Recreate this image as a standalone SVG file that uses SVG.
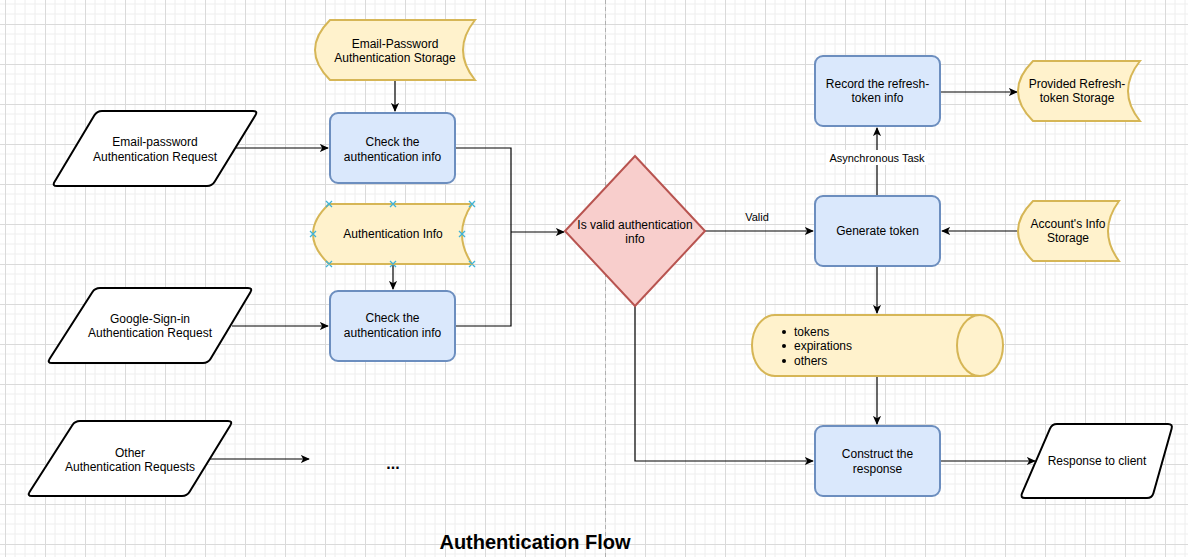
<svg xmlns="http://www.w3.org/2000/svg" width="1188" height="557" viewBox="0 0 1188 557">
<defs>
<pattern id="grid" x="5" y="24" width="40" height="40" patternUnits="userSpaceOnUse">
<path d="M10,0V40M20,0V40M30,0V40M0,10H40M0,20H40M0,30H40" stroke="#eeeeee" stroke-width="1" fill="none"/>
<path d="M0.5,0V40M0,0.5H40" stroke="#dadada" stroke-width="1" fill="none"/>
</pattern>
<marker id="arr" viewBox="0 0 10 10" refX="9" refY="5" markerWidth="9" markerHeight="9" markerUnits="userSpaceOnUse" orient="auto">
<path d="M0,0.5 L10,5 L0,9.5 L2.5,5 Z" fill="#000"/>
</marker>
<style>
text{font-family:"Liberation Sans",Arial,sans-serif;font-size:12px;fill:#000;}
.c{text-anchor:middle;}
.blue{fill:#dae8fc;stroke:#6c8ebf;stroke-width:2;}
.yel{fill:#fff2cc;stroke:#d6b656;stroke-width:2;}
.io{fill:#fff;stroke:#000;stroke-width:2;stroke-linejoin:round;}
.dia{fill:#f8cecc;stroke:#b85450;stroke-width:2;}
.edge{fill:none;stroke:#000;stroke-width:1.2;}
.sel{stroke:#3fb3d8;stroke-width:1.3;}
</style>
</defs>
<rect width="1188" height="557" fill="#fff"/>
<rect width="1188" height="557" fill="url(#grid)"/>
<line x1="605.5" y1="0" x2="605.5" y2="557" stroke="#b0b0b0" stroke-width="1" stroke-dasharray="4,3"/>

<g id="connectors">
<path class="edge" d="M395,80V111" marker-end="url(#arr)"/>
<path class="edge" d="M393,264V289" marker-end="url(#arr)"/>
<path class="edge" d="M235,148H328" marker-end="url(#arr)"/>
<path class="edge" d="M232,326H328" marker-end="url(#arr)"/>
<path class="edge" d="M210,459H309" marker-end="url(#arr)"/>
<path class="edge" d="M455,148H511V326H455"/>
<path class="edge" d="M511,232H564" marker-end="url(#arr)"/>
<path class="edge" d="M705,231H813" marker-end="url(#arr)"/>
<text class="c" x="757" y="221" style="font-size:11px">Valid</text>
<path class="edge" d="M877,196V128" marker-end="url(#arr)"/>
<rect x="826" y="150" width="102" height="15" fill="#fff"/>
<text class="c" x="877" y="162" style="font-size:11px">Asynchronous Task</text>
<path class="edge" d="M940,92H1017" marker-end="url(#arr)"/>
<path class="edge" d="M1018,231H942" marker-end="url(#arr)"/>
<path class="edge" d="M877,266V313" marker-end="url(#arr)"/>
<path class="edge" d="M877,376V424" marker-end="url(#arr)"/>
<path class="edge" d="M635,306V461H813" marker-end="url(#arr)"/>
<path class="edge" d="M940,461H1035" marker-end="url(#arr)"/>
</g>

<g id="email-password-storage">
<path class="yel" d="M330,20 L475,20 Q451,50 475,80 L330,80 Q300,50 330,20 Z"/>
<text class="c" x="395" y="48">Email-Password</text>
<text class="c" x="395" y="62">Authentication Storage</text>
</g>

<g id="check-auth-1">
<rect class="blue" x="330" y="113" width="125" height="70" rx="8"/>
<text class="c" x="392.5" y="146">Check the</text>
<text class="c" x="392.5" y="161">authentication info</text>
</g>

<g id="authentication-info">
<path class="yel" d="M329,204 L472,204 Q452,234 472,264 L329,264 Q297,234 329,204 Z"/>
<text class="c" x="393" y="238">Authentication Info</text>
<g class="sel">
<path d="M326,201l6,6m0,-6l-6,6M390,201l6,6m0,-6l-6,6M469,201l6,6m0,-6l-6,6M310,231l6,6m0,-6l-6,6M459,231l6,6m0,-6l-6,6M326,261l6,6m0,-6l-6,6M390,261l6,6m0,-6l-6,6M469,261l6,6m0,-6l-6,6"/>
</g>
</g>

<g id="check-auth-2">
<rect class="blue" x="330" y="291" width="125" height="70" rx="8"/>
<text class="c" x="392.5" y="322">Check the</text>
<text class="c" x="392.5" y="337">authentication info</text>
</g>

<g id="email-password-request">
<path class="io" d="M102,111 H253 Q258,111 255.4,115.3 L214.6,181.7 Q212,186 207,186 H57 Q52,186 54.6,181.7 L94.4,115.3 Q97,111 102,111 Z"/>
<text class="c" x="155" y="146">Email-password</text>
<text class="c" x="155" y="161">Authentication Request</text>
</g>

<g id="google-request">
<path class="io" d="M100,288 H248 Q253,288 250.4,292.3 L210.6,358.7 Q208,363 203,363 H52 Q47,363 49.7,358.8 L92.3,292.2 Q95,288 100,288 Z"/>
<text class="c" x="150" y="323">Google-Sign-in</text>
<text class="c" x="150" y="337">Authentication Request</text>
</g>

<g id="other-requests">
<path class="io" d="M80,421 H228 Q233,421 230.4,425.3 L189.6,491.7 Q187,496 182,496 H32 Q27,496 29.7,491.8 L72.3,425.2 Q75,421 80,421 Z"/>
<text class="c" x="130" y="457">Other</text>
<text class="c" x="130" y="471">Authentication Requests</text>
</g>

<g id="ellipsis">
<text class="c" x="393" y="469" style="font-size:16px;font-weight:bold">...</text>
</g>

<g id="decision">
<path class="dia" d="M635,156 L705,231 L635,306 L565,231 Z"/>
<text class="c" x="635" y="229">Is valid authentication</text>
<text class="c" x="635" y="243">info</text>
</g>

<g id="record-refresh">
<rect class="blue" x="815" y="56" width="125" height="70" rx="8"/>
<text class="c" x="877.5" y="88">Record the refresh-</text>
<text class="c" x="877.5" y="102">token info</text>
</g>

<g id="refresh-storage">
<path class="yel" d="M1033,61 L1140,61 Q1116,91 1140,121 L1033,121 Q1003,91 1033,61 Z"/>
<text class="c" x="1077" y="88">Provided Refresh-</text>
<text class="c" x="1077" y="102">token Storage</text>
</g>

<g id="generate-token">
<rect class="blue" x="815" y="196" width="125" height="70" rx="8"/>
<text class="c" x="877.5" y="235">Generate token</text>
</g>

<g id="account-storage">
<path class="yel" d="M1033,201 L1119,201 Q1097,231 1119,261 L1033,261 Q1003,231 1033,201 Z"/>
<text class="c" x="1068" y="228">Account's Info</text>
<text class="c" x="1068" y="242">Storage</text>
</g>

<g id="token-data">
<path class="yel" d="M775,315 H980 A23,30.5 0 0 1 980,376 H775 A23,30.5 0 0 1 775,315 Z"/>
<path class="yel" d="M980,315 A23,30.5 0 0 0 980,376" fill="none"/>
<circle cx="784" cy="332" r="2"/>
<circle cx="784" cy="346" r="2"/>
<circle cx="784" cy="361" r="2"/>
<text x="794" y="336">tokens</text>
<text x="794" y="350">expirations</text>
<text x="794" y="365">others</text>
</g>

<g id="construct-response">
<rect class="blue" x="815" y="426" width="125" height="70" rx="8"/>
<text class="c" x="877.5" y="458">Construct the</text>
<text class="c" x="877.5" y="473">response</text>
</g>

<g id="response-client">
<path class="io" d="M1057,424 H1168 Q1173,424 1171.6,428.8 L1153.4,493.2 Q1152,498 1147,498 H1025 Q1020,498 1022,493.4 L1050,428.6 Q1052,424 1057,424 Z"/>
<text class="c" x="1097" y="465">Response to client</text>
</g>

<text class="c" x="535" y="549" style="font-size:20px;font-weight:bold">Authentication Flow</text>
</svg>
